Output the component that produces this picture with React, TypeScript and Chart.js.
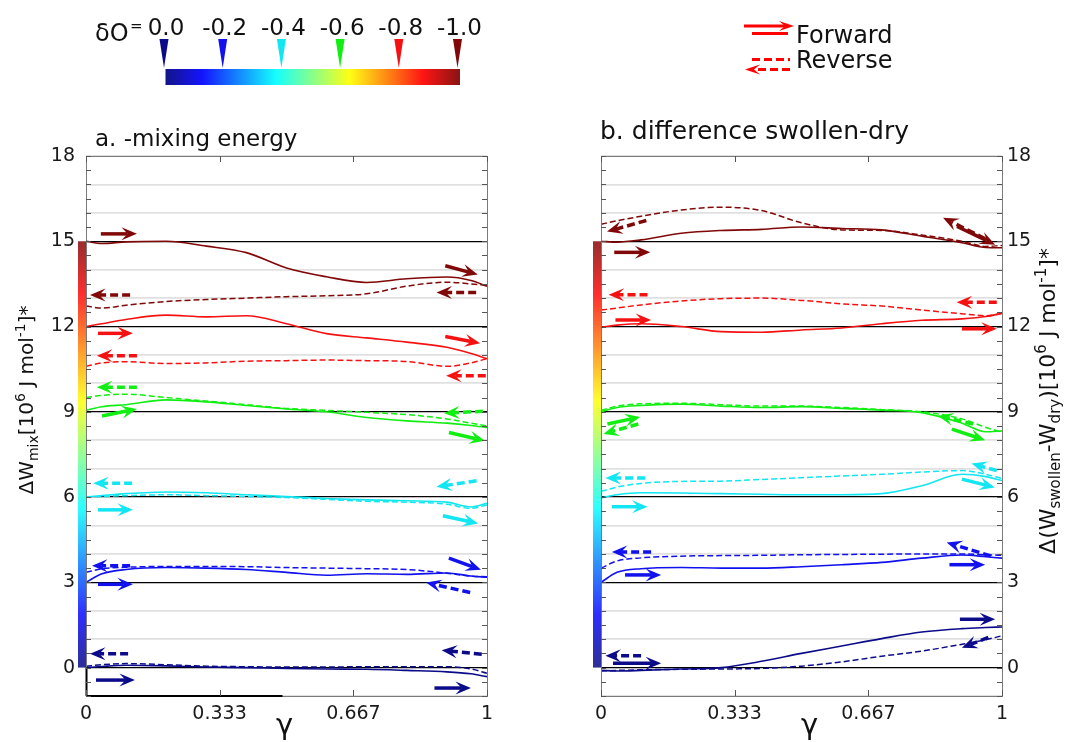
import { useEffect, useRef } from 'react';
import { Chart, registerables } from 'chart.js';

Chart.register(...registerables);

const FONT = "'DejaVu Sans', Verdana, sans-serif";

// gamma sample positions
const GAMMA = [0, 0.04, 0.1, 0.2, 0.3, 0.4, 0.5, 0.6, 0.7, 0.8, 0.9, 0.96, 1];

const DELTA_O_LABELS = ['0.0', '-0.2', '-0.4', '-0.6', '-0.8', '-1.0'];
const LEVEL_COLORS = ['#0b0b8a', '#1111ee', '#11e6f2', '#11ee11', '#f51111', '#800808'];

const X_TICKS = [0, 0.333, 0.667, 1];
const X_TICK_LABELS = ['0', '0.333', '0.667', '1'];
const Y_LABELED = [0, 3, 6, 9, 12, 15, 18];
const BASELINES = [0, 3, 6, 9, 12, 15];

// ---- panel a: -mixing energy ----
const MIX_FWD_0 = [0.0, 0.04, 0.08, 0.06, 0.02, 0.0, -0.03, -0.05, -0.06, -0.1, -0.15, -0.22, -0.32];
const MIX_REV_0 = [0.05, 0.1, 0.14, 0.1, 0.05, 0.03, 0.02, 0.02, 0.03, 0.03, 0.03, -0.05, -0.2];
const MIX_FWD_2 = [3.0, 3.3, 3.45, 3.52, 3.5, 3.45, 3.35, 3.25, 3.3, 3.28, 3.33, 3.22, 3.18];
const MIX_REV_2 = [3.35, 3.48, 3.53, 3.56, 3.56, 3.55, 3.52, 3.5, 3.48, 3.45, 3.32, 3.22, 3.2];
const MIX_FWD_4 = [6.0, 6.05, 6.12, 6.18, 6.15, 6.08, 6.02, 5.95, 5.9, 5.87, 5.82, 5.65, 5.78];
const MIX_REV_4 = [6.0, 6.02, 6.05, 6.08, 6.05, 6.02, 5.98, 5.92, 5.85, 5.82, 5.75, 5.6, 5.72];
const MIX_FWD_6 = [9.05, 9.18, 9.25, 9.42, 9.35, 9.22, 9.1, 9.0, 8.8, 8.68, 8.6, 8.52, 8.45];
const MIX_REV_6 = [9.5, 9.58, 9.62, 9.5, 9.38, 9.25, 9.12, 9.05, 8.98, 8.9, 8.75, 8.6, 8.5];
const MIX_FWD_8 = [12.0, 12.1, 12.25, 12.4, 12.34, 12.38, 12.1, 11.75, 11.6, 11.45, 11.27, 11.05, 10.87];
const MIX_REV_8 = [10.6, 10.72, 10.76, 10.7, 10.72, 10.78, 10.8, 10.82, 10.8, 10.77, 10.6, 10.72, 10.87];
const MIX_FWD_10 = [15.0, 14.92, 14.98, 15.0, 14.83, 14.6, 14.06, 13.75, 13.55, 13.68, 13.74, 13.62, 13.42];
const MIX_REV_10 = [12.72, 12.65, 12.75, 12.88, 12.95, 13.0, 13.05, 13.08, 13.15, 13.42, 13.56, 13.5, 13.45];

// ---- panel b: difference swollen-dry ----
const DIFF_FWD_0 = [-0.1, -0.12, -0.1, -0.05, 0.0, 0.22, 0.5, 0.76, 1.02, 1.25, 1.37, 1.41, 1.43];
const DIFF_REV_0 = [-0.12, -0.1, -0.08, -0.06, -0.05, -0.03, 0.05, 0.2, 0.4, 0.58, 0.82, 0.98, 1.12];
const DIFF_FWD_2 = [3.0, 3.35, 3.48, 3.52, 3.5, 3.5, 3.55, 3.62, 3.7, 3.85, 3.96, 3.9, 3.85];
const DIFF_REV_2 = [3.5, 3.75, 3.86, 3.92, 3.94, 3.95, 3.97, 3.98, 3.99, 4.0, 4.0, 3.97, 3.95];
const DIFF_FWD_4 = [5.97, 6.08, 6.15, 6.14, 6.12, 6.1, 6.08, 6.08, 6.12, 6.4, 6.8, 6.72, 6.58];
const DIFF_REV_4 = [6.2, 6.35, 6.48, 6.55, 6.56, 6.62, 6.68, 6.74, 6.8, 6.88, 6.93, 6.8, 6.65];
const DIFF_FWD_6 = [9.0, 9.15, 9.22, 9.27, 9.2, 9.15, 9.18, 9.12, 9.06, 8.97, 8.6, 8.3, 8.33];
const DIFF_REV_6 = [9.05, 9.2, 9.28, 9.3, 9.25, 9.2, 9.2, 9.15, 9.08, 9.0, 8.75, 8.45, 8.28];
const DIFF_FWD_8 = [11.97, 12.05, 12.1, 12.0, 11.82, 11.8, 11.88, 11.95, 12.1, 12.22, 12.27, 12.35, 12.47];
const DIFF_REV_8 = [12.58, 12.65, 12.76, 12.9, 12.98, 13.0, 12.92, 12.8, 12.72, 12.58, 12.45, 12.38, 12.45];
const DIFF_FWD_10 = [15.0, 14.97, 15.05, 15.28, 15.38, 15.42, 15.5, 15.45, 15.4, 15.18, 14.95, 14.78, 14.77];
const DIFF_REV_10 = [15.6, 15.72, 15.88, 16.1, 16.2, 16.08, 15.65, 15.4, 15.38, 15.22, 15.0, 14.82, 14.85];

const MIX_FWD = [MIX_FWD_0, MIX_FWD_2, MIX_FWD_4, MIX_FWD_6, MIX_FWD_8, MIX_FWD_10];
const MIX_REV = [MIX_REV_0, MIX_REV_2, MIX_REV_4, MIX_REV_6, MIX_REV_8, MIX_REV_10];
const DIFF_FWD = [DIFF_FWD_0, DIFF_FWD_2, DIFF_FWD_4, DIFF_FWD_6, DIFF_FWD_8, DIFF_FWD_10];
const DIFF_REV = [DIFF_REV_0, DIFF_REV_2, DIFF_REV_4, DIFF_REV_6, DIFF_REV_8, DIFF_REV_10];

// direction arrows: [x tail, y tail, x head, y head, level index, dashed]
const MIX_ARROWS = [
  [0.037, 15.26, 0.127, 15.26, 5, 0],
  [0.03, 11.76, 0.117, 11.76, 4, 0],
  [0.04, 8.85, 0.127, 9.1, 3, 0],
  [0.03, 5.55, 0.117, 5.55, 2, 0],
  [0.03, 2.93, 0.117, 2.93, 1, 0],
  [0.025, -0.44, 0.122, -0.44, 0, 0],
  [0.896, 14.14, 0.977, 13.83, 5, 0],
  [0.896, 11.65, 0.983, 11.41, 4, 0],
  [0.905, 8.27, 0.995, 7.98, 3, 0],
  [0.89, 5.34, 0.978, 5.07, 2, 0],
  [0.905, 3.85, 0.985, 3.44, 1, 0],
  [0.869, -0.72, 0.96, -0.72, 0, 0],
  [0.11, 13.11, 0.01, 13.11, 5, 1],
  [0.127, 10.97, 0.027, 10.97, 4, 1],
  [0.127, 9.86, 0.027, 9.86, 3, 1],
  [0.115, 6.49, 0.018, 6.49, 2, 1],
  [0.11, 3.58, 0.015, 3.58, 1, 1],
  [0.105, 0.49, 0.01, 0.49, 0, 1],
  [0.973, 13.2, 0.874, 13.2, 5, 1],
  [0.997, 10.27, 0.898, 10.27, 4, 1],
  [0.99, 9.02, 0.893, 8.95, 3, 1],
  [0.974, 6.57, 0.874, 6.36, 2, 1],
  [0.958, 2.64, 0.848, 2.99, 1, 1],
  [0.987, 0.47, 0.887, 0.61, 0, 1],
];

const DIFF_ARROWS = [
  [0.033, 14.61, 0.123, 14.61, 5, 0],
  [0.036, 12.23, 0.125, 12.23, 4, 0],
  [0.016, 8.57, 0.098, 8.82, 3, 0],
  [0.027, 5.66, 0.116, 5.66, 2, 0],
  [0.06, 3.26, 0.15, 3.26, 1, 0],
  [0.03, 0.15, 0.15, 0.15, 0, 0],
  [0.888, 15.52, 0.983, 14.88, 5, 0],
  [0.9, 11.92, 0.987, 11.92, 4, 0],
  [0.875, 8.39, 0.958, 8.0, 3, 0],
  [0.9, 6.63, 0.982, 6.34, 2, 0],
  [0.869, 3.62, 0.958, 3.62, 1, 0],
  [0.895, 1.7, 0.983, 1.7, 0, 0],
  [0.113, 15.73, 0.015, 15.34, 5, 1],
  [0.116, 13.12, 0.019, 13.12, 4, 1],
  [0.093, 8.57, 0.006, 8.22, 3, 1],
  [0.11, 6.67, 0.011, 6.67, 2, 1],
  [0.125, 4.07, 0.027, 4.07, 1, 1],
  [0.1, 0.42, 0.011, 0.42, 0, 1],
  [0.958, 15.09, 0.853, 15.83, 5, 1],
  [0.987, 12.85, 0.887, 12.85, 4, 1],
  [0.928, 8.57, 0.84, 8.86, 3, 1],
  [0.987, 6.93, 0.924, 7.18, 2, 1],
  [0.972, 3.93, 0.862, 4.4, 1, 1],
  [0.966, 1.06, 0.9, 0.7, 0, 1],
];

const JET: [number, string][] = [
  [0, '#00007f'], [0.125, '#0000ff'], [0.375, '#00ffff'], [0.625, '#ffff00'], [0.875, '#ff0000'], [1, '#7f0000'],
];

type Seg = [string, 'n' | 'b' | 'p'];
const LEFT_YTITLE: Seg[] = [['ΔW', 'n'], ['mix', 'b'], ['[10', 'n'], ['6', 'p'], [' J mol', 'n'], ['-1', 'p'], [']*', 'n']];
const RIGHT_YTITLE: Seg[] = [['Δ(W', 'n'], ['swollen', 'b'], ['-W', 'n'], ['dry', 'b'], [')[10', 'n'], ['6', 'p'], [' J mol', 'n'], ['-1', 'p'], [']*', 'n']];

function drawRich(ctx: CanvasRenderingContext2D, segs: Seg[], x: number, y: number, size: number, rotate: boolean) {
  ctx.save();
  ctx.translate(x, y);
  if (rotate) ctx.rotate(-Math.PI / 2);
  const sub = Math.round(size * 0.68);
  let total = 0;
  const ws = segs.map(([t, m]) => {
    ctx.font = `${m === 'n' ? size : sub}px ${FONT}`;
    const w = ctx.measureText(t).width;
    total += w;
    return w;
  });
  let cx = -total / 2;
  ctx.textAlign = 'left';
  ctx.textBaseline = 'alphabetic';
  ctx.fillStyle = '#111';
  segs.forEach(([t, m], i) => {
    ctx.font = `${m === 'n' ? size : sub}px ${FONT}`;
    const dy = m === 'b' ? size * 0.24 : m === 'p' ? -size * 0.42 : 0;
    ctx.fillText(t, cx, dy);
    cx += ws[i];
  });
  ctx.restore();
}

function drawArrow(ctx: CanvasRenderingContext2D, x1: number, y1: number, x2: number, y2: number, color: string, dashed: boolean, lw = 3.5, L = 15.5, W = 6.5) {
  const dx = x2 - x1, dy = y2 - y1;
  const len = Math.hypot(dx, dy);
  const ux = dx / len, uy = dy / len;
  const nx = -uy, ny = ux;
  const bx = x2 - ux * L * 0.6, by = y2 - uy * L * 0.6;
  ctx.save();
  ctx.strokeStyle = color;
  ctx.fillStyle = color;
  ctx.lineWidth = lw;
  ctx.lineCap = 'butt';
  ctx.setLineDash(dashed ? [8, 4] : []);
  ctx.beginPath();
  ctx.moveTo(x1, y1);
  ctx.lineTo(bx, by);
  ctx.stroke();
  ctx.setLineDash([]);
  ctx.beginPath();
  ctx.moveTo(x2, y2);
  ctx.lineTo(x2 - ux * L + nx * W, y2 - uy * L + ny * W);
  ctx.lineTo(bx, by);
  ctx.lineTo(x2 - ux * L - nx * W, y2 - uy * L - ny * W);
  ctx.closePath();
  ctx.fill();
  ctx.restore();
}

function yTicks() {
  const t: { value: number }[] = [];
  for (let v = -1; v <= 18; v += 0.5) t.push({ value: v });
  return t;
}

function makePlugin(side: 'left' | 'right', arrows: number[][]) {
  return {
    id: 'panel_' + side,
    afterDatasetsDraw(chart: any) {
      const ctx = chart.ctx as CanvasRenderingContext2D;
      const xs = chart.scales.x, ys = chart.scales.y;
      arrows.forEach((a) => {
        drawArrow(ctx, xs.getPixelForValue(a[0]), ys.getPixelForValue(a[1]), xs.getPixelForValue(a[2]), ys.getPixelForValue(a[3]), LEVEL_COLORS[a[4]], a[5] === 1);
      });
    },
    afterDraw(chart: any) {
      const ctx = chart.ctx as CanvasRenderingContext2D;
      const xs = chart.scales.x, ys = chart.scales.y;
      const { left, right, top, bottom } = chart.chartArea;
      ctx.save();
      // colour bar along left edge
      const y0 = ys.getPixelForValue(0), y15 = ys.getPixelForValue(15);
      const g = ctx.createLinearGradient(0, y0, 0, y15);
      JET.forEach(([s, c]) => g.addColorStop(s, c));
      ctx.globalAlpha = 0.82;
      ctx.fillStyle = g;
      ctx.fillRect(left - 8, y15, 8, y0 - y15);
      ctx.globalAlpha = 1;
      // frame
      ctx.strokeStyle = '#7a7a7a';
      ctx.lineWidth = 1;
      ctx.strokeRect(Math.round(left) + 0.5, Math.round(top) + 0.5, Math.round(right - left), Math.round(bottom - top));
      if (side === 'left') {
        ctx.strokeStyle = '#000';
        ctx.lineWidth = 2;
        ctx.beginPath();
        ctx.moveTo(left, bottom);
        ctx.lineTo(xs.getPixelForValue(0.49), bottom);
        ctx.moveTo(left + 0.5, y0);
        ctx.lineTo(left + 0.5, bottom);
        ctx.stroke();
      }
      // inner ticks
      ctx.strokeStyle = '#555';
      ctx.lineWidth = 1;
      ctx.beginPath();
      ys.ticks.forEach((t: any) => {
        const py = Math.round(ys.getPixelForValue(t.value)) + 0.5;
        ctx.moveTo(left, py); ctx.lineTo(left + 5, py);
        ctx.moveTo(right, py); ctx.lineTo(right - 5, py);
      });
      X_TICKS.forEach((v) => {
        const px = Math.round(xs.getPixelForValue(v)) + 0.5;
        ctx.moveTo(px, bottom); ctx.lineTo(px, bottom - 6);
        ctx.moveTo(px, top); ctx.lineTo(px, top + 6);
      });
      ctx.stroke();
      // x title gamma
      ctx.fillStyle = '#111';
      ctx.font = `29px ${FONT}`;
      ctx.textAlign = 'center';
      ctx.textBaseline = 'alphabetic';
      ctx.fillText('γ', xs.getPixelForValue(side === 'left' ? 0.495 : 0.52), 734);
      // panel titles and y titles
      ctx.textAlign = 'left';
      if (side === 'left') {
        ctx.font = `23px ${FONT}`;
        ctx.fillText('a. -mixing energy', 95, 146);
        drawRich(ctx, LEFT_YTITLE, 33, 400, 20, true);
        // header: delta O colour scale
        ctx.font = `24px ${FONT}`;
        ctx.fillText('δO', 95, 41);
        ctx.font = `15px ${FONT}`;
        ctx.fillText('=', 130, 31);
        const cx0 = 165.5, cx1 = 460;
        const hg = ctx.createLinearGradient(cx0, 0, cx1, 0);
        JET.forEach(([s, c]) => hg.addColorStop(s, c));
        ctx.globalAlpha = 0.92;
        ctx.fillStyle = hg;
        ctx.fillRect(cx0, 69, cx1 - cx0, 16);
        ctx.globalAlpha = 1;
        const p0 = 164, p1 = 457.5;
        DELTA_O_LABELS.forEach((lab, i) => {
          const px = p0 + (i * (p1 - p0)) / (DELTA_O_LABELS.length - 1);
          ctx.fillStyle = LEVEL_COLORS[i];
          ctx.beginPath();
          ctx.moveTo(px - 4.5, 39);
          ctx.lineTo(px + 4.5, 39);
          ctx.lineTo(px, 68);
          ctx.closePath();
          ctx.fill();
          ctx.fillStyle = '#111';
          ctx.font = `23px ${FONT}`;
          ctx.textAlign = 'center';
          ctx.fillText(lab, px + 2, 35);
        });
        // legend forward / reverse
        ctx.textAlign = 'left';
        ctx.fillStyle = '#111';
        ctx.font = `24px ${FONT}`;
        ctx.fillText('Forward', 796, 43);
        ctx.fillText('Reverse', 796, 68);
        drawArrow(ctx, 744, 26, 794, 26, '#ff0000', false, 3, 15, 5);
        ctx.strokeStyle = '#ff0000';
        ctx.lineWidth = 3;
        ctx.beginPath();
        ctx.moveTo(752, 33.5); ctx.lineTo(788, 33.5);
        ctx.stroke();
        ctx.setLineDash([8, 4]);
        ctx.beginPath();
        ctx.moveTo(752, 59.5); ctx.lineTo(790, 59.5);
        ctx.stroke();
        ctx.setLineDash([]);
        drawArrow(ctx, 790, 69.5, 745, 69.5, '#ff0000', true, 3, 15, 5);
      } else {
        ctx.font = `25px ${FONT}`;
        ctx.fillText('b. difference swollen-dry', 600, 139);
        drawRich(ctx, RIGHT_YTITLE, 1055, 401, 22, true);
      }
      ctx.restore();
    },
  };
}

function makeConfig(side: 'left' | 'right', fwd: number[][], rev: number[][], arrows: number[][]) {
  const datasets: any[] = [];
  for (let i = 0; i < fwd.length; i++) {
    datasets.push({
      data: GAMMA.map((g, k) => ({ x: g, y: rev[i][k] })),
      borderColor: LEVEL_COLORS[i],
      borderWidth: 1.5,
      borderDash: [6, 3],
      pointRadius: 0,
      fill: false,
      cubicInterpolationMode: 'monotone',
    });
    datasets.push({
      data: GAMMA.map((g, k) => ({ x: g, y: fwd[i][k] })),
      borderColor: LEVEL_COLORS[i],
      borderWidth: 1.6,
      pointRadius: 0,
      fill: false,
      cubicInterpolationMode: 'monotone',
    });
  }
  const tickFont = { family: FONT, size: 19 };
  return {
    type: 'line',
    data: { datasets },
    options: {
      responsive: false,
      animation: false,
      events: [],
      layout: {
        padding: side === 'left' ? { left: 0, right: 580, top: 156, bottom: 0 } : { left: 601, right: 0, top: 156, bottom: 0 },
      },
      plugins: { legend: { display: false }, tooltip: { enabled: false } },
      scales: {
        x: {
          type: 'linear',
          min: 0,
          max: 1,
          afterBuildTicks: (s: any) => { s.ticks = X_TICKS.map((v) => ({ value: v })); },
          afterFit: (s: any) => { s.height = 46; },
          ticks: {
            autoSkip: false,
            maxRotation: 0,
            padding: 7,
            color: '#1a1a1a',
            font: tickFont,
            callback: (_v: any, i: number) => X_TICK_LABELS[i],
          },
          grid: { display: false, drawTicks: false },
          border: { display: false },
        },
        y: {
          type: 'linear',
          position: side,
          min: -1,
          max: 18,
          afterBuildTicks: (s: any) => { s.ticks = yTicks(); },
          afterFit: (s: any) => { s.width = side === 'left' ? 86 : 65; },
          ticks: {
            autoSkip: false,
            padding: side === 'left' ? 11 : 5,
            color: '#1a1a1a',
            font: tickFont,
            callback: (v: any) => (Y_LABELED.includes(v) ? String(v) : ''),
          },
          grid: {
            drawTicks: false,
            color: (c: any) => {
              const v = c.tick ? c.tick.value : 0;
              if (BASELINES.includes(v)) return '#000';
              if (Number.isInteger(v)) return '#e0e0e0';
              return 'rgba(0,0,0,0)';
            },
            lineWidth: (c: any) => {
              const v = c.tick ? c.tick.value : 0;
              if (BASELINES.includes(v)) return 1.2;
              return 1.8;
            },
          },
          border: { display: false },
        },
      },
    },
    plugins: [makePlugin(side, arrows)],
  };
}

export default function App() {
  const leftRef = useRef<HTMLCanvasElement>(null);
  const rightRef = useRef<HTMLCanvasElement>(null);
  useEffect(() => {
    const a = new Chart(leftRef.current as HTMLCanvasElement, makeConfig('left', MIX_FWD, MIX_REV, MIX_ARROWS) as any);
    const b = new Chart(rightRef.current as HTMLCanvasElement, makeConfig('right', DIFF_FWD, DIFF_REV, DIFF_ARROWS) as any);
    return () => { a.destroy(); b.destroy(); };
  }, []);
  const cs: any = { position: 'absolute', left: 0, top: 0, width: 1067, height: 742 };
  return (
    <div style={{ position: 'fixed', left: 0, top: 0, width: 1067, height: 742, background: '#fff' }}>
      <canvas ref={leftRef} width={1067} height={742} style={cs} />
      <canvas ref={rightRef} width={1067} height={742} style={cs} />
    </div>
  );
}
